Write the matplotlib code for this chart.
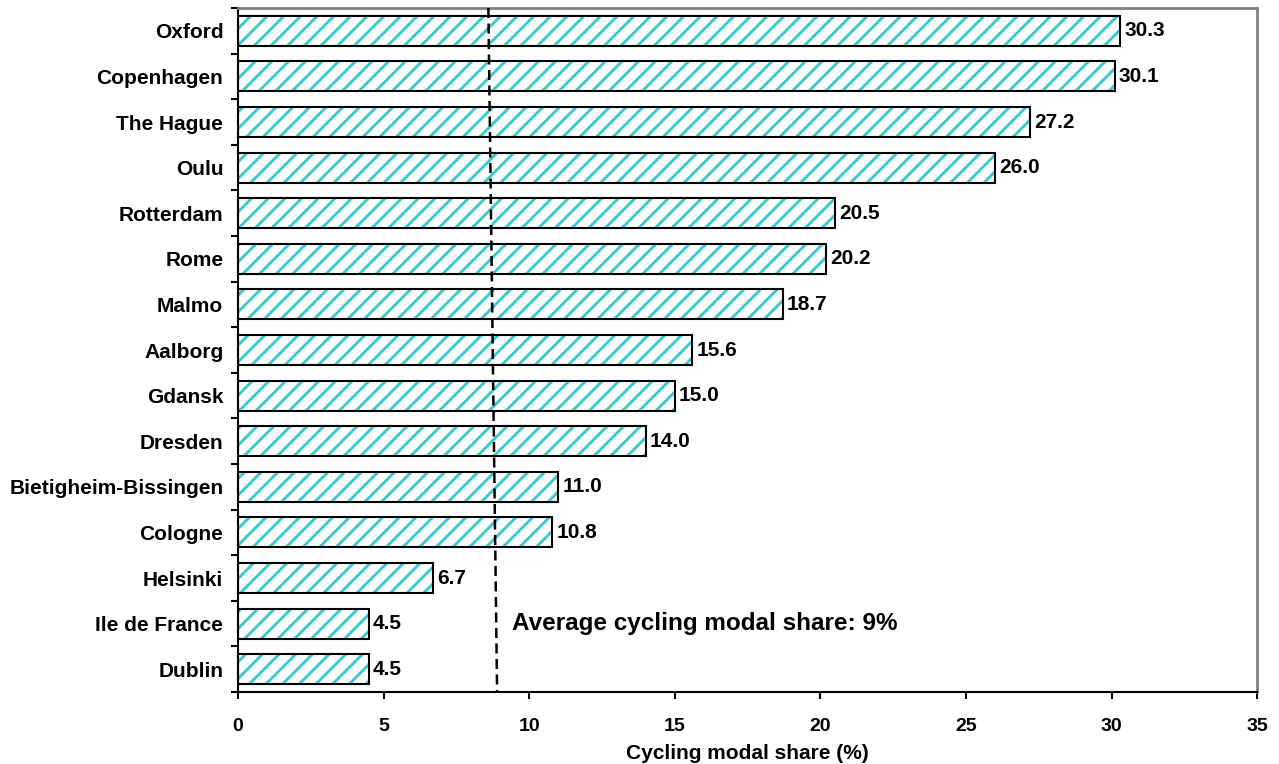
import matplotlib.pyplot as plt
import numpy as np

plt.rcParams["font.family"] = ["Liberation Sans", "DejaVu Sans"]
plt.rcParams["font.weight"] = "bold"
plt.rcParams["hatch.linewidth"] = 2.1

# 데이터 (위에서 아래 순서)
cities = ["Oxford", "Copenhagen", "The Hague", "Oulu", "Rotterdam", "Rome", "Malmo",
          "Aalborg", "Gdansk", "Dresden", "Bietigheim-Bissingen", "Cologne",
          "Helsinki", "Ile de France", "Dublin"]
shares = [30.3, 30.1, 27.2, 26.0, 20.5, 20.2, 18.7, 15.6, 15.0, 14.0, 11.0, 10.8, 6.7, 4.5, 4.5]
avg_top = 8.6
avg_bottom = 8.9
avg_label = "Average cycling modal share: 9%"
x_ticks = [0, 5, 10, 15, 20, 25, 30, 35]

fig = plt.figure(figsize=(12.79, 7.64), dpi=100)
ax = fig.add_axes([0.186, 0.0942, 0.797, 0.8953])

y = np.arange(len(cities))
# 해치(청록) 먼저, 그 위에 검은 테두리
ax.barh(y, shares, height=0.66, color="white", edgecolor="#3CCACA", hatch="//", linewidth=0, zorder=2)
ax.barh(y, shares, height=0.66, fill=False, edgecolor="black", linewidth=1.5, zorder=3)

for yi, v in zip(y, shares):
    ax.annotate(f"{v:.1f}", (v, yi), xytext=(3, 0), textcoords="offset points",
                va="center", ha="left", fontsize=15, fontweight="bold")

ax.plot([avg_top, avg_bottom], [-0.5, len(cities) - 0.5], color="black", linestyle=(0, (4, 2.2)),
        linewidth=1.8, zorder=4)
ax.text(9.4, 13, avg_label, fontsize=17.5, fontweight="bold", va="center", ha="left")

ax.set_xlim(0, 35)
ax.set_ylim(len(cities) - 0.5, -0.5)
ax.set_xticks(x_ticks)
ax.set_yticks(y)
ax.set_yticklabels(cities, fontsize=15, fontweight="bold")
ax.tick_params(axis="y", which="major", length=0, pad=10.5)
ax.set_yticks(np.arange(len(cities) + 1) - 0.5, minor=True)
ax.tick_params(axis="y", which="minor", length=5, width=1.5, direction="out")
ax.tick_params(axis="x", length=5, width=1.5, direction="out", labelsize=14, pad=14)
for lbl in ax.get_xticklabels():
    lbl.set_fontweight("bold")
ax.set_xlabel("Cycling modal share (%)", fontsize=15, fontweight="bold", labelpad=6)

for side in ["top", "right"]:
    ax.spines[side].set_color("#808080")
    ax.spines[side].set_linewidth(2)
for side in ["left", "bottom"]:
    ax.spines[side].set_color("black")
    ax.spines[side].set_linewidth(1.5)

plt.savefig("out.png", dpi=100)
